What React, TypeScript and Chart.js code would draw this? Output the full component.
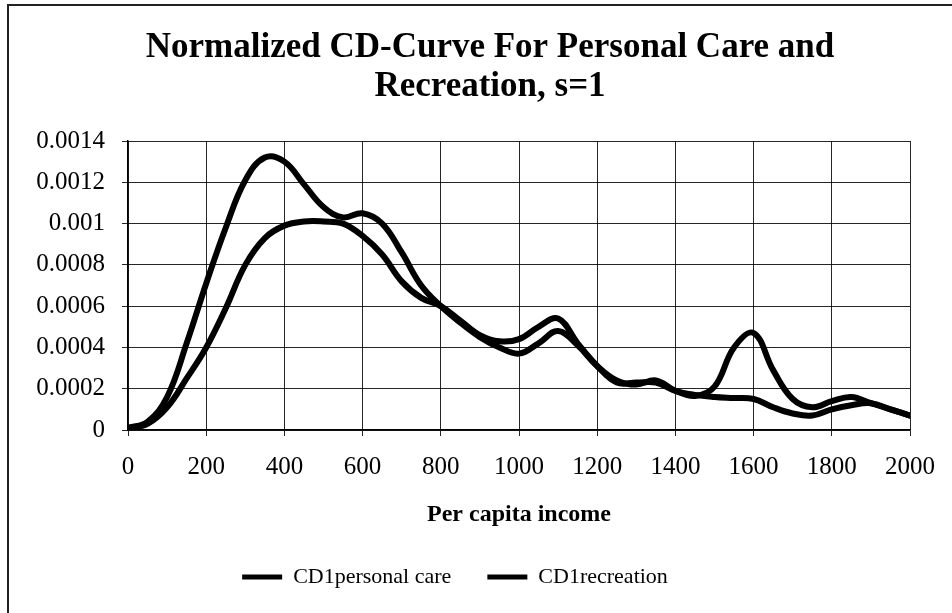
import React, { useEffect, useRef } from 'react';
import { Chart, registerables } from 'chart.js';

Chart.register(...registerables);

const incomeX = [
  0, 50, 100, 150, 200, 250, 300, 350, 400, 450, 500, 550, 600, 650, 700, 750, 800, 850, 900, 950,
  1000, 1050, 1100, 1150, 1200, 1250, 1300, 1350, 1400, 1450, 1500, 1550, 1600, 1650, 1700, 1750,
  1800, 1850, 1900, 1950, 2000,
];

const personalCare = [
  0.00001, 0.00004, 0.00016, 0.00042, 0.00071, 0.00098, 0.00121, 0.00132, 0.0013, 0.00119, 0.00108,
  0.00103, 0.00105, 0.001, 0.00086, 0.0007, 0.0006, 0.00052, 0.00045, 0.0004, 0.00037, 0.00042,
  0.00048, 0.00041, 0.00031, 0.00024, 0.00022, 0.00024, 0.00019, 0.000165, 0.00021, 0.0004, 0.00047,
  0.00029, 0.00015, 0.00011, 0.00014, 0.00016, 0.00013, 0.0001, 0.00007,
];

const recreation = [
  0.00001, 0.00003, 0.00011, 0.00025, 0.0004, 0.00059, 0.0008, 0.00093, 0.00099, 0.00101, 0.00101,
  0.001, 0.00094, 0.00085, 0.00072, 0.00064, 0.0006, 0.00053, 0.00046, 0.00043, 0.00044, 0.0005,
  0.00054, 0.00042, 0.00031, 0.00023, 0.00023, 0.00023, 0.00019, 0.00017, 0.00016, 0.000155, 0.00015,
  0.00011, 0.00008, 0.00007, 0.0001, 0.00012, 0.00013, 0.0001, 0.00007,
];

const xTickValues = [0, 200, 400, 600, 800, 1000, 1200, 1400, 1600, 1800, 2000];
const yTickValues = [0, 0.0002, 0.0004, 0.0006, 0.0008, 0.001, 0.0012, 0.0014];

const titleLines = ['Normalized CD-Curve For Personal Care and', 'Recreation, s=1'];
const xAxisTitle = 'Per capita income';
const seriesNames = ['CD1personal care', 'CD1recreation'];

const SERIF = "'Liberation Serif', 'Times New Roman', serif";

const titleShift = {
  id: 'titleShift',
  afterLayout(chart: any) {
    const t = chart.titleBlock;
    if (t) {
      t.left = t.left + 70;
    }
  },
};

export default function App() {
  const ref = useRef<HTMLCanvasElement | null>(null);

  useEffect(() => {
    document.body.style.margin = '0';
    const canvas = ref.current;
    if (!canvas) return;

    const gridColor = 'rgba(0,0,0,0.85)';

    const makeSeries = (label: string, values: number[]) => ({
      label,
      data: incomeX.map((x, i) => ({ x, y: values[i] })),
      borderColor: '#000',
      backgroundColor: '#000',
      borderWidth: 6,
      pointRadius: 0,
      tension: 0.4,
      borderCapStyle: 'round',
      borderJoinStyle: 'round',
      fill: false,
    });

    const chart = new Chart(canvas, {
      type: 'line',
      data: {
        datasets: [makeSeries(seriesNames[0], personalCare), makeSeries(seriesNames[1], recreation)],
      },
      options: {
        animation: false,
        responsive: false,
        maintainAspectRatio: false,
        layout: { padding: { top: 29, left: 0, right: 42, bottom: 15 } },
        plugins: {
          title: {
            display: true,
            text: titleLines,
            color: '#000',
            font: { family: SERIF, size: 35, weight: 'bold', lineHeight: 1.1 },
            padding: { top: 0, bottom: 35 },
          },
          legend: {
            display: true,
            position: 'bottom',
            labels: {
              color: '#000',
              font: { family: SERIF, size: 22 },
              boxWidth: 40,
              boxHeight: 5,
              padding: 36,
              generateLabels: (c: any) =>
                (Chart.defaults.plugins.legend.labels as any)
                  .generateLabels(c)
                  .map((l: any) => ({ ...l, lineWidth: 0, fillStyle: '#000' })),
            },
          },
          tooltip: { enabled: false },
        },
        scales: {
          x: {
            type: 'linear',
            min: 0,
            max: 2000,
            afterBuildTicks: (s: any) => {
              s.ticks = xTickValues.map((v) => ({ value: v }));
            },
            afterFit: (s: any) => {
              s.height = 100;
            },
            ticks: {
              color: '#000',
              font: { family: SERIF, size: 25 },
              padding: 16,
              maxRotation: 0,
              autoSkip: false,
              callback: (v: any) => String(v),
            },
            grid: { color: gridColor, lineWidth: 1, tickLength: 6 },
            border: { color: '#000', width: 1.5 },
            title: {
              display: true,
              text: xAxisTitle,
              color: '#000',
              font: { family: SERIF, size: 24, weight: 'bold', lineHeight: 1.2 },
              padding: { top: 0, bottom: 1 },
            },
          },
          y: {
            type: 'linear',
            min: 0,
            max: 0.0014,
            afterBuildTicks: (s: any) => {
              s.ticks = yTickValues.map((v) => ({ value: v }));
            },
            afterFit: (s: any) => {
              s.width = 128;
            },
            ticks: {
              color: '#000',
              font: { family: SERIF, size: 25 },
              padding: 17,
              autoSkip: false,
              callback: (v: any) => String(Number(Number(v).toFixed(4))),
            },
            grid: { color: gridColor, lineWidth: 1, tickLength: 6 },
            border: { color: '#000', width: 1.5 },
          },
        },
      } as any,
      plugins: [titleShift],
    });

    return () => {
      chart.destroy();
    };
  }, []);

  return (
    <div style={{ position: 'fixed', left: 0, top: 0, width: 952, height: 613, background: '#fff', overflow: 'hidden' }}>
      <div
        style={{
          position: 'absolute',
          left: 7,
          top: 4,
          right: -10,
          bottom: -10,
          borderLeft: '2px solid #222',
          borderTop: '2px solid #222',
        }}
      />
      <canvas ref={ref} width={952} height={613} style={{ position: 'absolute', left: 0, top: 0, width: 952, height: 613 }} />
    </div>
  );
}
